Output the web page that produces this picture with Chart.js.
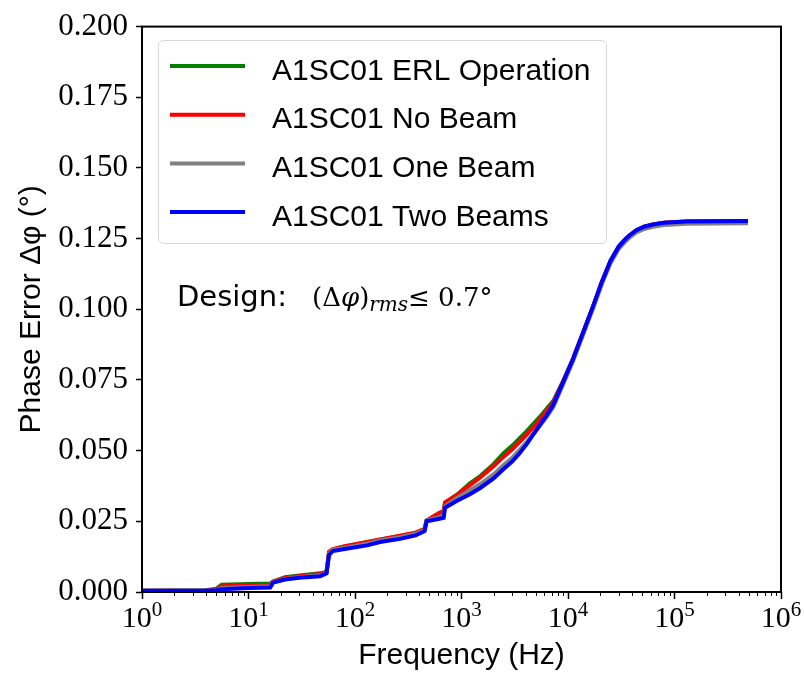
<!DOCTYPE html>
<html>
<head>
<meta charset="utf-8">
<title>A1SC01 Phase Error</title>
<script src="https://cdn.jsdelivr.net/npm/chart.js@4.4.0/dist/chart.umd.min.js"></script>
<style>
  html, body { margin: 0; padding: 0; background: #fff; }
  #wrap { width: 804px; height: 674px; }
</style>
</head>
<body>
<div id="wrap"><canvas id="phaseChart" width="804" height="674"></canvas></div>
<script>
// Integrated phase error of cavity A1SC01 vs. upper integration frequency (Hz)
const frequencies = [1, 4, 5, 5.6, 10, 16, 17, 22, 30, 47, 54, 57, 62, 80, 130, 172, 265, 370, 450, 470,
  620, 680, 700, 900, 1200, 1500, 2000, 2470, 3000, 3500, 4080, 5460, 6300, 7280, 9040, 11200, 13900,
  17300, 20700, 25000, 30000, 35000, 38000, 44000, 52000, 63000, 80000, 130000, 490000];

const erlOperation = [0.0004, 0.0006, 0.0012, 0.0026, 0.0028, 0.0030, 0.0037, 0.0052, 0.0058, 0.0066,
  0.0071, 0.0141, 0.0151, 0.0161, 0.0176, 0.0185, 0.0198, 0.0209, 0.0222, 0.0252, 0.0279, 0.0285,
  0.0316, 0.0343, 0.0384, 0.0410, 0.0452, 0.0490, 0.0518, 0.0543, 0.0568, 0.0620, 0.0648, 0.0676,
  0.0748, 0.0827, 0.0919, 0.1013, 0.1095, 0.1170, 0.1222, 0.1250, 0.1262, 0.1280, 0.1292, 0.1300,
  0.1306, 0.1311, 0.1312];

const noBeam = [0.0004, 0.0005, 0.0008, 0.0020, 0.0023, 0.0025, 0.0036, 0.0050, 0.0056, 0.0064,
  0.0070, 0.0142, 0.0152, 0.0162, 0.0177, 0.0186, 0.0199, 0.0210, 0.0223, 0.0253, 0.0280, 0.0286,
  0.0317, 0.0342, 0.0378, 0.0405, 0.0445, 0.0478, 0.0505, 0.0530, 0.0556, 0.0610, 0.0640, 0.0670,
  0.0746, 0.0826, 0.0919, 0.1013, 0.1095, 0.1170, 0.1222, 0.1250, 0.1262, 0.1280, 0.1292, 0.1300,
  0.1306, 0.1311, 0.1312];

const oneBeam = [0.0004, 0.0005, 0.0006, 0.0014, 0.0018, 0.0020, 0.0034, 0.0046, 0.0052, 0.0059,
  0.0068, 0.0135, 0.0150, 0.0157, 0.0171, 0.0182, 0.0194, 0.0206, 0.0220, 0.0254, 0.0265, 0.0268,
  0.0303, 0.0332, 0.0360, 0.0382, 0.0416, 0.0448, 0.0475, 0.0502, 0.0530, 0.0588, 0.0619, 0.0654,
  0.0736, 0.0818, 0.0911, 0.1005, 0.1087, 0.1162, 0.1214, 0.1242, 0.1254, 0.1272, 0.1284, 0.1292,
  0.1298, 0.1303, 0.1304];

const twoBeams = [0.0004, 0.0005, 0.0006, 0.0010, 0.0014, 0.0016, 0.0033, 0.0044, 0.0050, 0.0056,
  0.0066, 0.0130, 0.0145, 0.0152, 0.0165, 0.0177, 0.0188, 0.0200, 0.0215, 0.0250, 0.0259, 0.0262,
  0.0298, 0.0322, 0.0346, 0.0368, 0.0402, 0.0434, 0.0462, 0.0490, 0.0522, 0.0592, 0.0625, 0.0662,
  0.0744, 0.0826, 0.0919, 0.1013, 0.1095, 0.1170, 0.1222, 0.1250, 0.1262, 0.1280, 0.1292, 0.1300,
  0.1306, 0.1311, 0.1312];

const seriesLabels = ['A1SC01 ERL Operation', 'A1SC01 No Beam', 'A1SC01 One Beam', 'A1SC01 Two Beams'];
const seriesColors = ['#008000', '#ff0000', '#808080', '#0000ff'];

const xTicks = [1, 10, 100, 1000, 10000, 100000, 1000000];
const yTicks = [0, 0.025, 0.05, 0.075, 0.1, 0.125, 0.15, 0.175, 0.2];

const SERIF = '"Liberation Serif", "Times New Roman", serif';
const SANS = '"Liberation Sans", Arial, sans-serif';

function toPoints(values) {
  return frequencies.map((f, i) => ({ x: f, y: values[i] }));
}

const allSeries = [erlOperation, noBeam, oneBeam, twoBeams];
const datasets = allSeries.map((values, i) => ({
  label: seriesLabels[i],
  data: toPoints(values),
  borderColor: seriesColors[i],
  backgroundColor: seriesColors[i],
  borderWidth: 4,
  pointRadius: 0,
  tension: 0,
  // later series are drawn on top
  order: allSeries.length - 1 - i
}));

// box around the plot, minor log ticks and 10^n labels
const axesDecor = {
  id: 'axesDecor',
  afterDraw(chart) {
    const { ctx, chartArea: a } = chart;
    const x = chart.scales.x;
    ctx.save();
    ctx.strokeStyle = '#000';
    ctx.lineWidth = 1;
    for (let d = 1; d < 1e6; d *= 10) {
      for (let m = 2; m <= 9; m++) {
        const px = Math.round(x.getPixelForValue(d * m)) + 0.5;
        ctx.beginPath();
        ctx.moveTo(px, a.bottom);
        ctx.lineTo(px, a.bottom + 4);
        ctx.stroke();
      }
    }
    ctx.lineWidth = 2;
    ctx.strokeRect(a.left, a.top, a.right - a.left, a.bottom - a.top);

    ctx.fillStyle = '#000';
    ctx.textAlign = 'left';
    ctx.textBaseline = 'alphabetic';
    xTicks.forEach(v => {
      const exp = String(Math.round(Math.log10(v)));
      ctx.font = '30px ' + SERIF;
      const wb = ctx.measureText('10').width;
      ctx.font = '21px ' + SERIF;
      const we = ctx.measureText(exp).width;
      const left = x.getPixelForValue(v) - (wb + we) / 2;
      ctx.font = '30px ' + SERIF;
      ctx.fillText('10', left, a.bottom + 35);
      ctx.font = '21px ' + SERIF;
      ctx.fillText(exp, left + wb, a.bottom + 24);
    });
    ctx.restore();
  }
};

// legend frame in the upper left corner of the plot
const boxLegend = {
  id: 'boxLegend',
  afterDraw(chart) {
    const { ctx } = chart;
    ctx.save();
    ctx.beginPath();
    ctx.roundRect(158.5, 40.5, 448, 203, 5);
    ctx.fillStyle = 'rgba(255,255,255,0.8)';
    ctx.fill();
    ctx.strokeStyle = '#d6d6d6';
    ctx.lineWidth = 1;
    ctx.stroke();

    chart.data.datasets.forEach((ds, i) => {
      const y = 66 + i * 48.7;
      ctx.strokeStyle = ds.borderColor;
      ctx.lineWidth = 4;
      ctx.beginPath();
      ctx.moveTo(170, y);
      ctx.lineTo(245, y);
      ctx.stroke();
      ctx.fillStyle = '#000';
      ctx.font = '30px ' + SANS;
      ctx.textAlign = 'left';
      ctx.textBaseline = 'alphabetic';
      ctx.fillText(ds.label, 272, y + 13.5);
    });
    ctx.restore();
  }
};

// design requirement note
const designNote = {
  id: 'designNote',
  afterDraw(chart) {
    const { ctx } = chart;
    const base = 306;
    const mathFont = '"DejaVu Serif", serif';
    let cx = 177;
    ctx.save();
    ctx.fillStyle = '#000';
    ctx.textAlign = 'left';
    ctx.textBaseline = 'alphabetic';
    ctx.font = '29px "DejaVu Sans", sans-serif';
    ctx.fillText('Design:', cx, base);
    cx = 312;
    const pieces = [
      ['(\u0394', '26px ' + mathFont, 0],
      ['\u03c6', 'italic 26px ' + mathFont, 0],
      [')', '26px ' + mathFont, 0],
      ['rms', 'italic 20px ' + mathFont, 5],
      ['\u2264 0.7\u00b0', '26px ' + mathFont, 0]
    ];
    pieces.forEach(([t, f, dy]) => {
      ctx.font = f;
      ctx.fillText(t, cx, base + dy);
      cx += ctx.measureText(t).width;
    });
    ctx.restore();
  }
};

const ctx = document.getElementById('phaseChart');

new Chart(ctx, {
  type: 'line',
  data: { datasets },
  options: {
    responsive: false,
    animation: false,
    devicePixelRatio: 1,
    layout: { padding: { left: 0, right: 23, top: 22, bottom: 0 } },
    plugins: {
      legend: { display: false },
      tooltip: { enabled: false }
    },
    scales: {
      x: {
        type: 'logarithmic',
        min: 1,
        max: 1e6,
        border: { display: false },
        grid: {
          drawOnChartArea: false,
          drawTicks: true,
          tickLength: 7,
          tickWidth: 1.5,
          tickColor: '#000',
          color: '#000'
        },
        ticks: { display: false },
        afterBuildTicks: scale => { scale.ticks = xTicks.map(v => ({ value: v })); },
        afterFit: scale => { scale.height = 82; },
        title: {
          display: true,
          text: 'Frequency (Hz)',
          color: '#000',
          font: { family: SANS, size: 30, lineHeight: 1 },
          padding: { top: 0, bottom: 3 }
        }
      },
      y: {
        min: 0,
        max: 0.2,
        border: { display: false },
        grid: {
          drawOnChartArea: false,
          drawTicks: true,
          tickLength: 6,
          tickWidth: 1.5,
          tickColor: '#000',
          color: '#000'
        },
        ticks: {
          color: '#000',
          padding: 8,
          font: { family: SERIF, size: 31 },
          callback: v => v.toFixed(3)
        },
        afterBuildTicks: scale => { scale.ticks = yTicks.map(v => ({ value: v })); },
        afterFit: scale => { scale.width = 142; },
        title: {
          display: true,
          text: 'Phase Error \u0394\u03c6 (\u00b0)',
          color: '#000',
          font: { family: SANS, size: 30, lineHeight: 1 },
          padding: { top: 17, bottom: 0 }
        }
      }
    }
  },
  plugins: [axesDecor, boxLegend, designNote]
});
</script>
</body>
</html>
